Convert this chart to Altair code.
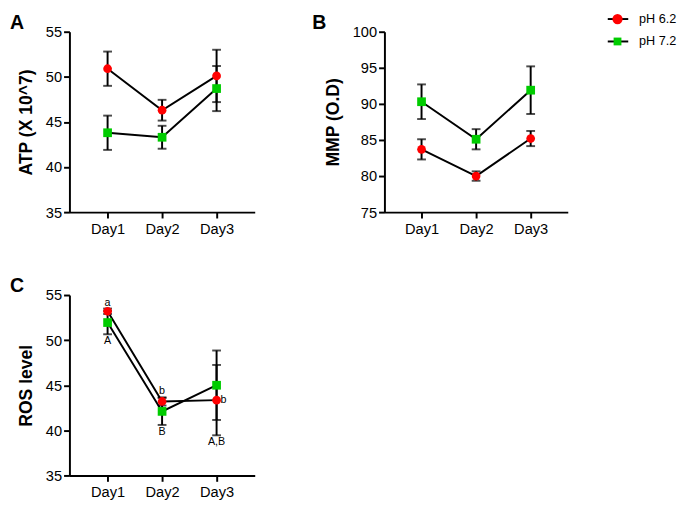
import altair as alt
import pandas as pd

FONT = "Liberation Sans"

days = ["Day1", "Day2", "Day3"]
series = ["pH 6.2", "pH 7.2"]
colors = ["#FF0000", "#00CC00"]
shapes = ["circle", "square"]

# Panel A - ATP (X 10^7)
atp_62 = [50.9, 46.3, 50.1]
atp_62_err = [1.9, 1.15, 2.9]
atp_72 = [43.8, 43.3, 48.7]
atp_72_err = [1.9, 1.27, 2.5]

# Panel B - MMP (O.D)
mmp_62 = [83.7, 80.0, 85.2]
mmp_62_err = [1.4, 0.65, 1.05]
mmp_72 = [90.3, 85.1, 91.9]
mmp_72_err = [2.4, 1.4, 3.3]

# Panel C - ROS level
ros_62 = [53.2, 43.2, 43.35]
ros_62_err = [0.3, 0.45, 3.9]
ros_72 = [51.95, 42.1, 45.0]
ros_72_err = [1.3, 1.5, 3.85]

# Panel C significance letters
ann_day = ["Day1", "Day2", "Day3", "Day1", "Day2", "Day3"]
ann_text = ["a", "b", "b", "A", "B", "A,B"]
ann_pos = ["above", "above", "right", "below", "below", "below"]


def make_df(m62, e62, m72, e72):
    rows = []
    for s, m, e in ((series[0], m62, e62), (series[1], m72, e72)):
        for d, mv, ev in zip(days, m, e):
            rows.append({"day": d, "series": s, "mean": mv, "lo": mv - ev, "hi": mv + ev})
    return pd.DataFrame(rows)


def panel(df, label, ytitle, ydom, yvals, width, pad, label_dx, extra=None):
    base = alt.Chart(df)
    x = alt.X("day:N", sort=days,
              scale=alt.Scale(type="point", padding=pad),
              axis=alt.Axis(title=None, labelAngle=0, labelPadding=4))
    y = alt.Y("mean:Q", scale=alt.Scale(domain=ydom, nice=False, zero=False),
              axis=alt.Axis(values=yvals, tickCount=len(yvals), labelOverlap=False,
                            title=ytitle, labelPadding=2, titlePadding=10))
    line = base.mark_line(color="black", strokeWidth=2).encode(
        x=x, y=y, detail="series:N")
    err = base.mark_rule(color="black", strokeWidth=2).encode(
        x=x, y="lo:Q", y2="hi:Q")
    cap_lo = base.mark_tick(color="black", thickness=2, size=9).encode(x=x, y="lo:Q")
    cap_hi = base.mark_tick(color="black", thickness=2, size=9).encode(x=x, y="hi:Q")
    pts = base.mark_point(filled=True, opacity=1, size=80).encode(
        x=x, y=y,
        color=alt.Color("series:N", scale=alt.Scale(domain=series, range=colors), legend=None),
        shape=alt.Shape("series:N", scale=alt.Scale(domain=series, range=shapes), legend=None),
    )
    tag = alt.Chart(pd.DataFrame({"panel": [label]})).mark_text(
        align="left", baseline="alphabetic", fontSize=20, fontWeight="bold",
        font=FONT, color="black").encode(
        x=alt.value(label_dx), y=alt.value(-3), text="panel:N")
    layers = [line, err, cap_lo, cap_hi, pts, tag]
    if extra is not None:
        layers += extra(x)
    return alt.layer(*layers).properties(width=width, height=185)


dfA = make_df(atp_62, atp_62_err, atp_72, atp_72_err)
dfB = make_df(mmp_62, mmp_62_err, mmp_72, mmp_72_err)
dfC = make_df(ros_62, ros_62_err, ros_72, ros_72_err)

# annotation table for C
ann_rows = []
for d, t, p in zip(ann_day, ann_text, ann_pos):
    sub = dfC[dfC["day"] == d]
    if p == "above":
        ay = sub["hi"].max()
    elif p == "below":
        ay = sub["lo"].min()
    else:
        ay = float(sub[sub["series"] == series[0]]["mean"].iloc[0])
    ann_rows.append({"day": d, "text": t, "pos": p, "ay": ay})
dfAnn = pd.DataFrame(ann_rows)


def c_extra(x):
    b = alt.Chart(dfAnn)
    above = b.transform_filter(alt.datum.pos == "above").mark_text(
        baseline="alphabetic", dy=-3, fontSize=11, font=FONT, color="black").encode(
        x=x, y="ay:Q", text="text:N")
    below = b.transform_filter(alt.datum.pos == "below").mark_text(
        baseline="top", dy=1, fontSize=11, font=FONT, color="black").encode(
        x=x, y="ay:Q", text="text:N")
    right = b.transform_filter(alt.datum.pos == "right").mark_text(
        baseline="middle", align="left", dx=4, fontSize=11, font=FONT, color="black").encode(
        x=x, y="ay:Q", text="text:N")
    return [above, below, right]


A = panel(dfA, "A", "ATP (X 10^7)", [35, 55], [35, 40, 45, 50, 55], 190, 0.7, -61)
C = panel(dfC, "C", "ROS level", [35, 55], [35, 40, 45, 50, 55], 190, 0.7, -61, extra=c_extra)
B_main = panel(dfB, "B", "MMP (O.D)", [75, 100], [75, 80, 85, 90, 95, 100], 188, 0.68, -74)

# legend drawn beside panel B
leg_df = pd.DataFrame({"series": series})
legy = alt.Y("series:N", sort=series,
             scale=alt.Scale(type="point", domain=series, range=[-13, 10], padding=0),
             axis=None)
lb = alt.Chart(leg_df)
leg_rule = lb.mark_rule(color="black", strokeWidth=2).encode(
    x=alt.value(229), x2=alt.value(250), y=legy)
leg_pt = lb.mark_point(filled=True, opacity=1).encode(
    x=alt.value(239), y=legy,
    color=alt.Color("series:N", scale=alt.Scale(domain=series, range=colors), legend=None),
    shape=alt.Shape("series:N", scale=alt.Scale(domain=series, range=shapes), legend=None),
    size=alt.Size("series:N", scale=alt.Scale(domain=series, range=[110, 64]), legend=None),
)
leg_txt = lb.mark_text(align="left", baseline="middle", fontSize=13, font=FONT,
                       color="black").encode(x=alt.value(261), y=legy, text="series:N")
legend = alt.layer(leg_rule, leg_pt, leg_txt)

B = alt.layer(B_main, legend).resolve_scale(y="independent")

top = alt.hconcat(A, B, spacing=59)
chart = alt.vconcat(top, C, spacing=41).properties(
    padding={"left": 2, "top": -1, "right": 0, "bottom": 0}
).configure_view(stroke=None).configure_axis(
    domainColor="black", domainWidth=2, tickColor="black", tickWidth=2, tickSize=6,
    labelColor="black", labelFont=FONT, labelFontSize=15,
    titleFont=FONT, titleFontSize=18, titleFontWeight="bold", titleColor="black",
    grid=False,
)

chart.save("out.html", embed_options={"renderer": "svg", "actions": False})
